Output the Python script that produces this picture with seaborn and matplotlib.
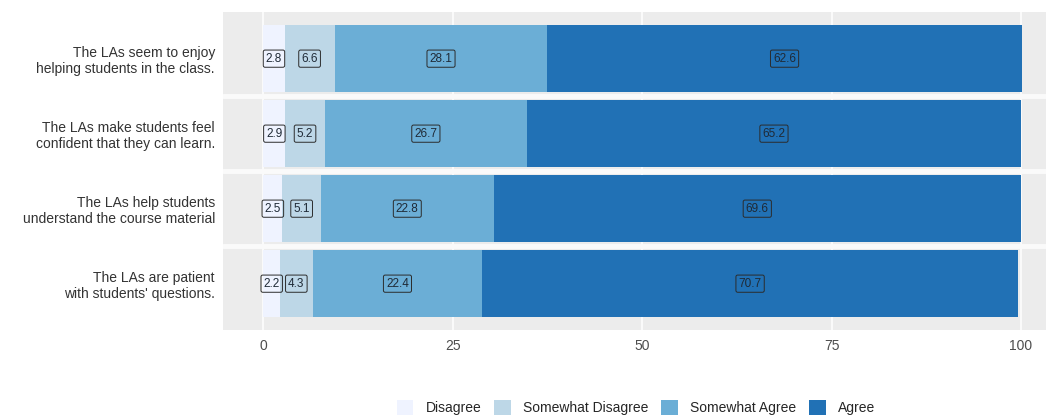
import numpy as np
import pandas as pd
import seaborn as sns
import matplotlib.pyplot as plt
from matplotlib.patches import Patch

statements = ['The LAs seem to enjoy\nhelping students in the class.',
              'The LAs make students feel\nconfident that they can learn.',
              'The LAs help students\nunderstand the course material',
              'The LAs are patient\nwith students\' questions.']
levels = ['Disagree', 'Somewhat Disagree', 'Somewhat Agree', 'Agree']
disagree = [2.8, 2.9, 2.5, 2.2]
somewhat_disagree = [6.6, 5.2, 5.1, 4.3]
somewhat_agree = [28.1, 26.7, 22.8, 22.4]
agree = [62.6, 65.2, 69.6, 70.7]
colors = ['#EFF3FF', '#BDD7E7', '#6BAED6', '#2171B5']
xticks = [0, 25, 50, 75, 100]

df = pd.DataFrame({'statement': statements,
                   'Disagree': disagree,
                   'Somewhat Disagree': somewhat_disagree,
                   'Somewhat Agree': somewhat_agree,
                   'Agree': agree})
cum = df[levels].cumsum(axis=1)

sns.set_style('whitegrid')
plt.rcParams['font.family'] = ['Liberation Sans', 'DejaVu Sans']

fig, ax = plt.subplots(figsize=(10.48, 4.19), dpi=100)
fig.subplots_adjust(left=0.213, right=0.998, top=0.971, bottom=0.212)

# stacked bars: draw the longest cumulative bar first, shorter ones on top
for lvl, col in reversed(list(zip(levels, colors))):
    sns.barplot(x=cum[lvl], y=df['statement'], color=col, width=0.9,
                orient='h', ax=ax, saturation=1, linewidth=0, zorder=2)

# segment labels
for lvl in levels:
    centers = cum[lvl] - df[lvl] / 2
    for i, (c, v) in enumerate(zip(centers, df[lvl])):
        ax.text(c, i, f'{v:.1f}', ha='center', va='center', fontsize=8.5,
                color='#1f2a36', zorder=4,
                bbox=dict(boxstyle='round,pad=0.22,rounding_size=0.15',
                          fc='none', ec='#2b2b2b', lw=0.7))

ax.set_facecolor('#ECECEC')
ax.grid(False)
for x in xticks:
    ax.axvline(x, color='white', lw=1.1, zorder=1)
for y in [0.5, 1.5, 2.5]:
    ax.axhline(y, color='#FAFAFA', lw=3.5, zorder=3)
for s in ax.spines.values():
    s.set_visible(False)

ax.set_xlim(-5.3, 103.3)
ax.set_ylim(3.62, -0.62)
ax.set_xticks(xticks)
ax.set_xticklabels([str(t) for t in xticks])
ax.tick_params(axis='both', colors='#333333', labelcolor='#4D4D4D',
               labelsize=10, length=3, width=0.8, pad=3)
ax.tick_params(axis='y', labelcolor='#333333', labelsize=10)
ax.set_xlabel('')
ax.set_ylabel('')

handles = [Patch(facecolor=c, edgecolor='none') for c in colors]
fig.legend(handles, levels, loc='center', bbox_to_anchor=(0.607, 0.027),
           ncol=4, frameon=False, fontsize=10, handlelength=1.2,
           handleheight=1.2, handletextpad=0.9, columnspacing=0.9)

fig.savefig('out.png', dpi=100)
